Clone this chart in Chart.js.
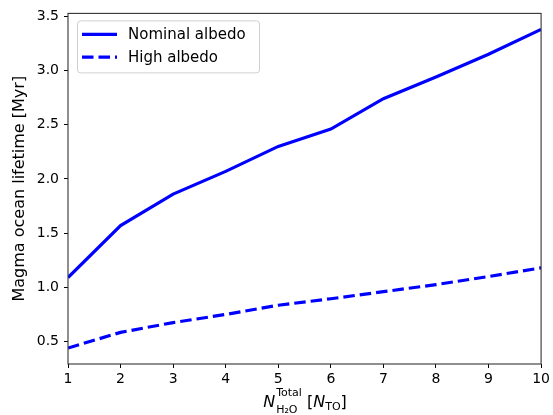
<!DOCTYPE html>
<html>
<head>
<meta charset="utf-8">
<script src="https://cdn.jsdelivr.net/npm/chart.js@4.4.1/dist/chart.umd.min.js"></script>
<style>
  html, body { margin: 0; padding: 0; background: #fff; }
  canvas { display: block; }
</style>
</head>
<body>
<canvas id="chart" width="553" height="415"></canvas>
<script>
// Water inventory (in terrestrial oceans) vs magma ocean lifetime
const waterOceans = [1, 2, 3, 4, 5, 6, 7, 8, 9, 10];
const nominalAlbedo = [1.09, 1.57, 1.86, 2.07, 2.30, 2.46, 2.74, 2.94, 3.15, 3.38];
const highAlbedo = [0.44, 0.585, 0.675, 0.75, 0.835, 0.895, 0.96, 1.025, 1.10, 1.18];
const seriesLabels = ['Nominal albedo', 'High albedo'];
const yTicks = [0.5, 1.0, 1.5, 2.0, 2.5, 3.0, 3.5];

const FONT = "'DejaVu Sans', sans-serif";
const BLUE = '#0000ff';

// frame around the plot area, like matplotlib spines
const framePlugin = {
  id: 'frame',
  afterDraw(chart) {
    const { ctx, chartArea: a } = chart;
    ctx.save();
    ctx.strokeStyle = '#333';
    ctx.lineWidth = 1.1;
    ctx.strokeRect(a.left, a.top, a.right - a.left, a.bottom - a.top);
    ctx.restore();
  }
};

// boxed legend in the upper-left corner
const legendPlugin = {
  id: 'boxLegend',
  afterDraw(chart) {
    const { ctx, chartArea: a } = chart;
    const x = a.left + 9, y = a.top + 7, w = 182, h = 52;
    ctx.save();
    ctx.beginPath();
    ctx.roundRect(x + 0.5, y + 0.5, w, h, 3);
    ctx.fillStyle = 'rgba(255,255,255,0.8)';
    ctx.fill();
    ctx.strokeStyle = '#d0d0d0';
    ctx.lineWidth = 1;
    ctx.stroke();
    ctx.font = '15px ' + FONT;
    ctx.textBaseline = 'middle';
    chart.data.datasets.forEach((ds, i) => {
      const ly = y + 14 + i * 22.7;
      ctx.beginPath();
      ctx.setLineDash(ds.borderDash || []);
      ctx.strokeStyle = ds.borderColor;
      ctx.lineWidth = ds.borderWidth;
      ctx.moveTo(x + 5, ly);
      ctx.lineTo(x + 40, ly);
      ctx.stroke();
      ctx.setLineDash([]);
      ctx.fillStyle = '#000';
      ctx.fillText(ds.label, x + 51, ly + 1);
    });
    ctx.restore();
  }
};

// x axis label with sub- and superscripts
const xTitlePlugin = {
  id: 'xTitle',
  afterDraw(chart) {
    const { ctx, chartArea: a } = chart;
    const big = '16px ' + FONT, bigIt = 'italic 16px ' + FONT, small = '11px ' + FONT;
    const base = 407;
    ctx.save();
    ctx.fillStyle = '#000';
    ctx.textBaseline = 'alphabetic';
    const meas = (f, t) => { ctx.font = f; return ctx.measureText(t).width; };
    const wN = meas(bigIt, 'N');
    const wSub = meas(small, 'H₂O');
    const wSup = meas(small, 'Total');
    const wScript = Math.max(wSub, wSup);
    const wOpen = meas(big, ' [');
    const wN2 = meas(bigIt, 'N');
    const wTO = meas(small, 'TO');
    const wClose = meas(big, ']');
    const total = wN + 1 + wScript + wOpen + wN2 + wTO + wClose;
    let x = 305 - total / 2;
    ctx.font = bigIt; ctx.fillText('N', x, base); x += wN + 1;
    ctx.font = small; ctx.fillText('Total', x, base - 11);
    ctx.fillText('H₂O', x, base + 5.5);
    x += wScript;
    ctx.font = big; ctx.fillText(' [', x, base); x += wOpen;
    ctx.font = bigIt; ctx.fillText('N', x, base); x += wN2;
    ctx.font = small; ctx.fillText('TO', x, base + 3); x += wTO;
    ctx.font = big; ctx.fillText(']', x, base);
    ctx.restore();
  }
};

new Chart(document.getElementById('chart'), {
  type: 'line',
  data: {
    datasets: [
      {
        label: seriesLabels[0],
        data: waterOceans.map((x, i) => ({ x, y: nominalAlbedo[i] })),
        borderColor: BLUE,
        borderWidth: 3.2,
        pointRadius: 0,
        fill: false,
        tension: 0
      },
      {
        label: seriesLabels[1],
        data: waterOceans.map((x, i) => ({ x, y: highAlbedo[i] })),
        borderColor: BLUE,
        borderWidth: 3.2,
        borderDash: [11.5, 5],
        pointRadius: 0,
        fill: false,
        tension: 0
      }
    ]
  },
  options: {
    responsive: false,
    animation: false,
    layout: { padding: { top: 10, right: 9, left: 0, bottom: 0 } },
    plugins: {
      legend: { display: false },
      tooltip: { enabled: false }
    },
    scales: {
      x: {
        type: 'linear',
        min: waterOceans[0],
        max: waterOceans[waterOceans.length - 1],
        afterFit: s => { s.height = 51; },
        ticks: { stepSize: 1, color: '#000', font: { size: 14, family: FONT }, padding: 3, maxRotation: 0 },
        grid: { drawOnChartArea: false, drawTicks: true, tickLength: 4, color: '#000' },
        border: { display: false }
      },
      y: {
        type: 'linear',
        min: 0.293,
        max: 3.527,
        afterFit: s => { s.width = 68; },
        afterBuildTicks: s => { s.ticks = yTicks.map(v => ({ value: v })); },
        ticks: { color: '#000', font: { size: 14, family: FONT }, padding: 5, callback: v => v.toFixed(1) },
        grid: { drawOnChartArea: false, drawTicks: true, tickLength: 4, color: '#000' },
        border: { display: false },
        title: { display: true, text: 'Magma ocean lifetime [Myr]', color: '#000', font: { size: 16, family: FONT }, padding: { top: 10 } }
      }
    }
  },
  plugins: [framePlugin, legendPlugin, xTitlePlugin]
});
</script>
</body>
</html>
